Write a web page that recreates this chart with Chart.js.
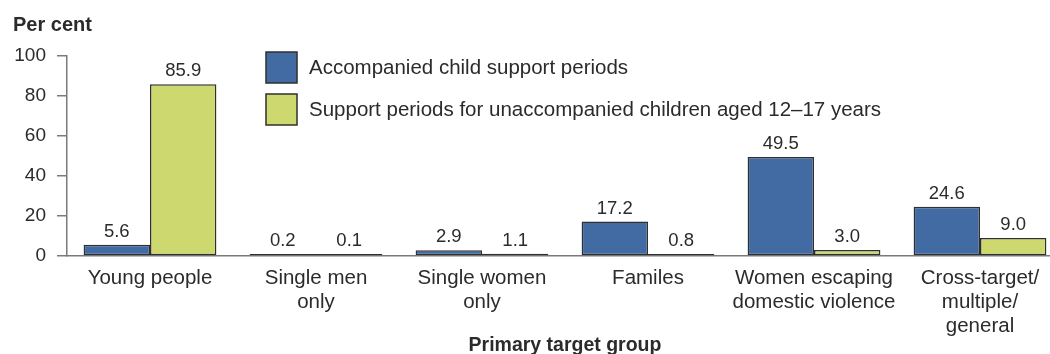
<!DOCTYPE html>
<html>
<head>
<meta charset="utf-8">
<style>
  html, body { margin: 0; padding: 0; background: #ffffff; overflow: hidden; }
  #wrap { width: 1070px; height: 370px; }
</style>
<script src="https://cdn.jsdelivr.net/npm/chart.js@4/dist/chart.umd.min.js"></script>
</head>
<body>
<div id="wrap"><canvas id="chart" width="1070" height="370"></canvas></div>
<script>
// Primary target groups (multi-line labels as arrays)
const categories = [
  'Young people',
  ['Single men', 'only'],
  ['Single women', 'only'],
  'Familes',
  ['Women escaping', 'domestic violence'],
  ['Cross-target/', 'multiple/', 'general']
];

const seriesNames = [
  'Accompanied child support periods',
  'Support periods for unaccompanied children aged 12\u201317 years'
];

const accompaniedValues   = [5.6, 0.2, 2.9, 17.2, 49.5, 24.6];
const unaccompaniedValues = [85.9, 0.1, 1.1, 0.8, 3.0, 9.0];

const yTicks = [0, 20, 40, 60, 80, 100];

const FONT = "'Liberation Sans', Arial, Helvetica, sans-serif";
const TEXT = '#2b2b2b';
const AXIS = '#7a7a7a';
const BLUE = '#426ba3';
const GREEN = '#cdd96e';
const EDGE = '#2f2f2f';

// Value labels above each bar
const valueLabels = {
  id: 'valueLabels',
  afterDatasetsDraw(chart) {
    const ctx = chart.ctx;
    ctx.save();
    ctx.font = '18.5px ' + FONT;
    ctx.fillStyle = TEXT;
    ctx.textAlign = 'center';
    ctx.textBaseline = 'alphabetic';
    chart.data.datasets.forEach((ds, i) => {
      const meta = chart.getDatasetMeta(i);
      meta.data.forEach((bar, j) => {
        ctx.fillText(ds.data[j].toFixed(1), bar.x, bar.y - 8);
      });
    });
    ctx.restore();
  }
};

// Boxed legend inside the plot, plus the two axis captions
const legendAndCaptions = {
  id: 'legendAndCaptions',
  afterDraw(chart) {
    const ctx = chart.ctx;
    const area = chart.chartArea;
    ctx.save();
    ctx.fillStyle = TEXT;
    ctx.textBaseline = 'alphabetic';

    ctx.font = 'bold 20px ' + FONT;
    ctx.textAlign = 'left';
    ctx.fillText('Per cent', 13, 31);

    ctx.font = 'bold 19.5px ' + FONT;
    ctx.textAlign = 'center';
    ctx.fillText('Primary target group', (area.left + area.right) / 2, 351);

    const x0 = 266, y0 = 52, box = 31, gap = 42;
    ctx.font = '20.5px ' + FONT;
    ctx.textAlign = 'left';
    ctx.textBaseline = 'middle';
    chart.data.datasets.forEach((ds, i) => {
      const y = y0 + i * gap;
      ctx.fillStyle = ds.backgroundColor;
      ctx.fillRect(x0, y, box, box);
      ctx.lineWidth = 1.5;
      ctx.strokeStyle = EDGE;
      ctx.strokeRect(x0, y, box, box);
      ctx.fillStyle = TEXT;
      ctx.fillText(ds.label, x0 + box + 12, y + box / 2 + 1);
    });
    ctx.restore();
  }
};

new Chart(document.getElementById('chart'), {
  type: 'bar',
  data: {
    labels: categories,
    datasets: [
      {
        label: seriesNames[0],
        data: accompaniedValues,
        backgroundColor: BLUE,
        borderColor: EDGE,
        borderWidth: 1.5,
        borderSkipped: false,
        minBarLength: 2
      },
      {
        label: seriesNames[1],
        data: unaccompaniedValues,
        backgroundColor: GREEN,
        borderColor: EDGE,
        borderWidth: 1.5,
        borderSkipped: false,
        minBarLength: 2
      }
    ]
  },
  options: {
    responsive: false,
    animation: false,
    devicePixelRatio: 1,
    layout: { padding: { left: 3, right: 7, top: 56, bottom: 0 } },
    categoryPercentage: 0.8,
    barPercentage: 1.0,
    plugins: {
      legend: { display: false },
      tooltip: { enabled: false }
    },
    scales: {
      x: {
        afterFit(scale) { scale.height = 114; },
        grid: { display: false, drawTicks: false },
        border: { color: AXIS, width: 1.5 },
        ticks: {
          color: TEXT,
          font: { family: FONT, size: 20.5, lineHeight: 1.17 },
          padding: 10,
          maxRotation: 0,
          autoSkip: false
        }
      },
      y: {
        min: 0,
        max: 100,
        afterFit(scale) { scale.width = 64; },
        afterBuildTicks(scale) {
          scale.ticks = yTicks.map(v => ({ value: v }));
        },
        grid: {
          drawOnChartArea: false,
          drawTicks: true,
          tickLength: 10,
          color: AXIS,
          lineWidth: 1.5
        },
        border: { color: AXIS, width: 1.5 },
        ticks: {
          color: TEXT,
          font: { family: FONT, size: 19 },
          padding: 11
        }
      }
    }
  },
  plugins: [valueLabels, legendAndCaptions]
});
</script>
</body>
</html>
